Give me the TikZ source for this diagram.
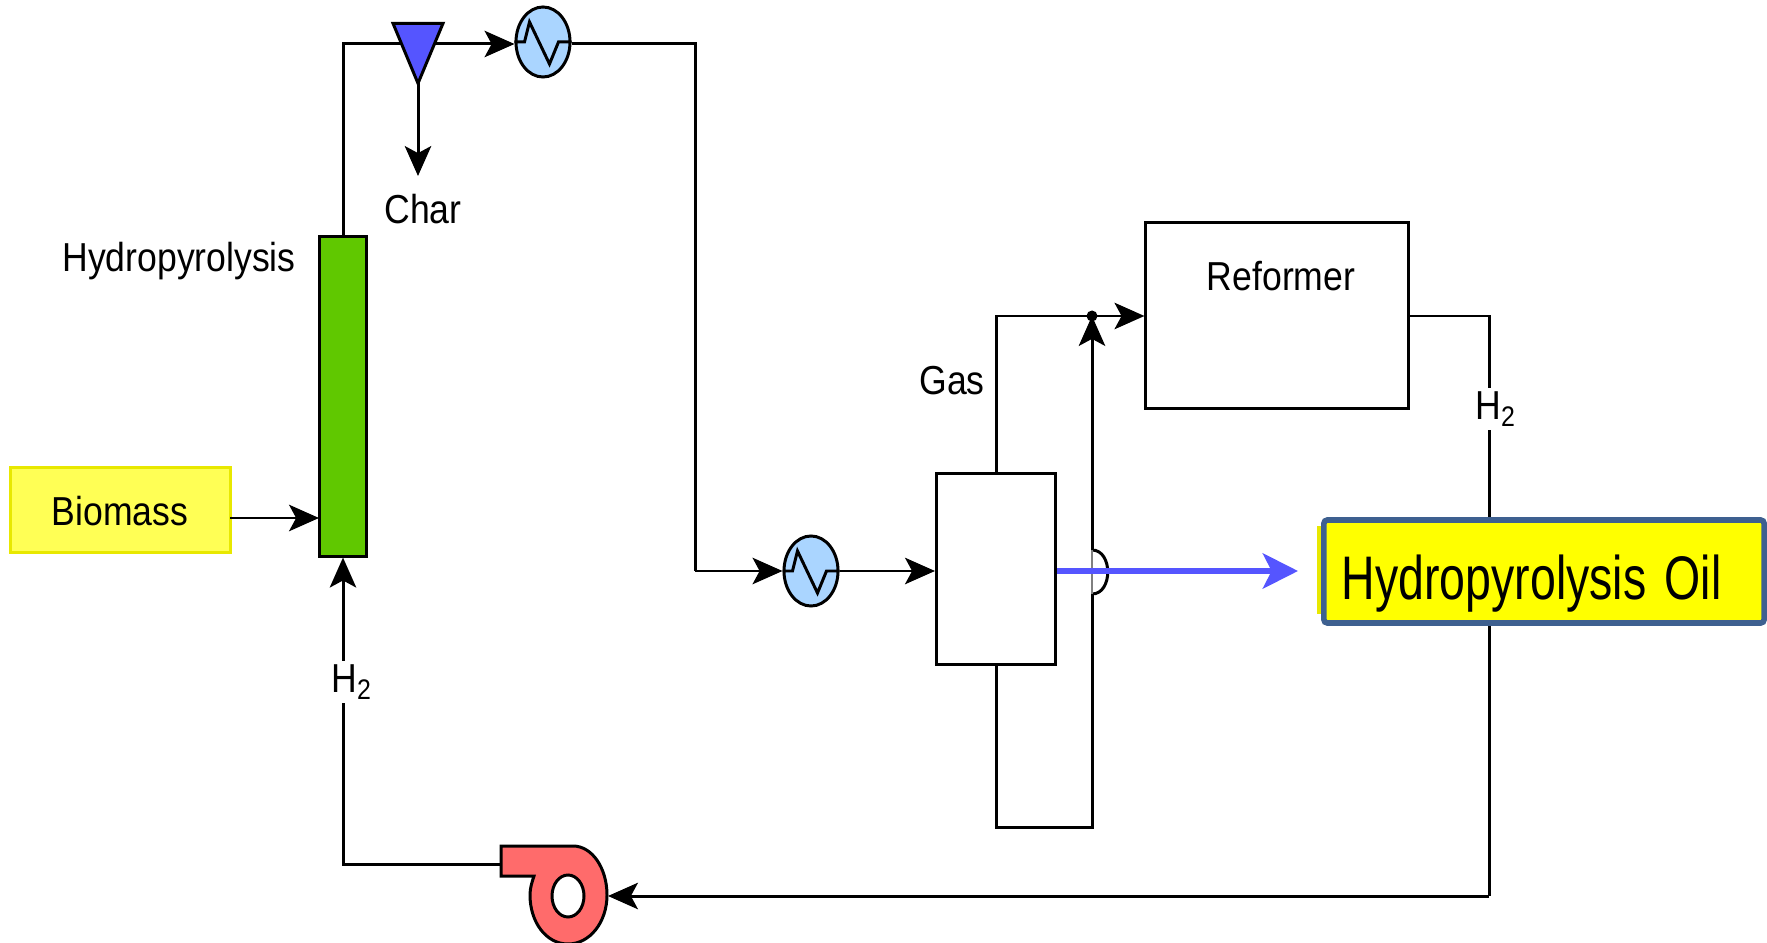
\documentclass[tikz,border=0pt]{standalone}
\usepackage{fontspec}
\setmainfont[FakeStretch=0.88]{Liberation Sans}
\newfontfamily\oilfont[FakeStretch=0.755]{Liberation Sans}
\usetikzlibrary{shapes,arrows.meta}
\definecolor{pf_green}{RGB}{96, 200, 0}
\definecolor{pf_blue}{RGB}{85, 85, 255}
\definecolor{pf_cool}{RGB}{170, 213, 255}
\definecolor{pf_red}{RGB}{255, 107, 107}
\definecolor{pf_yellow}{RGB}{255, 255, 85}
\definecolor{pf_edge}{RGB}{232, 232, 0}
\definecolor{pf_oil}{RGB}{255, 255, 0}
\definecolor{pf_slate}{RGB}{62, 96, 144}
\tikzstyle{box}=[rectangle,draw=black,line width=0.85pt,inner sep=0pt]
\tikzstyle{hx}=[ellipse,fill=pf_cool,draw=black,line width=0.85pt,inner sep=0pt,
  minimum width=0.54cm,minimum height=0.70cm]
\tikzstyle{lbl}=[font=\fontsize{11.5}{14}\selectfont,inner sep=1pt]
\tikzstyle{pipe}=[line width=0.85pt,draw=black]
\tikzstyle{flow}=[pipe,-{Stealth[length=8.5pt,width=7.5pt,inset=2pt]}]

\begin{document}
\begin{tikzpicture}[x=0.01cm,y=-0.01cm]
    \useasboundingbox (0,0) rectangle (1767,943);
    \node [style=box,fill=pf_yellow,draw=pf_edge,minimum width=2.19cm,minimum height=0.84cm] (biomass) at (120.5, 510) {};
    \node [style=lbl] (biomasstxt) at (120, 511) {Biomass};
    \node [style=box,fill=pf_green,minimum width=0.47cm,minimum height=3.19cm] (reactor) at (343, 396.5) {};
    \node [style=lbl] (hptxt) at (179, 261) {Hydropyrolysis};
    \node [style=hx] (hx1) at (543, 42) {};
    \node [style=hx] (hx2) at (811, 571) {};
    \node [style=box,minimum width=1.19cm,minimum height=1.90cm] (sep) at (996, 569) {};
    \node [style=box,minimum width=2.62cm,minimum height=1.85cm] (reformer) at (1277, 315.5) {};
    \node [style=lbl] (reformertxt) at (1281, 276) {Reformer};
    \node [style=lbl] (gastxt) at (952, 381) {Gas};
    \node [style=lbl] (chartxt) at (423, 209) {Char};
    \coordinate (t1) at (343, 44);
    \coordinate (t2) at (418, 44);
    \coordinate (t3) at (418, 176);
    \coordinate (m1) at (230, 518);
    \coordinate (m2) at (319, 518);
    \coordinate (c1) at (695, 44);
    \coordinate (c2) at (695, 571);
    \coordinate (g1) at (996, 316);
    \coordinate (j1) at (1092, 316);
    \coordinate (b1) at (996, 827);
    \coordinate (b2) at (1092, 827);
    \coordinate (h1) at (1092, 550);
    \coordinate (h2) at (1092, 594);
    \coordinate (r1) at (1489, 316);
    \coordinate (r2) at (1489, 896);
    \coordinate (p1) at (501, 864);
    \coordinate (p2) at (343, 864);
    \coordinate (p3) at (608, 896);
    \coordinate (o1) at (1298, 571);
    \draw [style=flow] (reactor.north -| t1) to (t1) to (hx1.west |- t1);
    \draw [style=flow] (t2) to (t3);
    \draw [style=pipe] (hx1.east |- c1) to (c1) to (c2);
    \draw [style=flow] (c2) to (hx2.west);
    \draw [style=flow] (hx2.east) to (sep.west |- hx2);
    \draw [style=flow] (m1) to (m2);
    \draw [style=flow] (sep.north) to (g1) to (j1) to (j1 -| reformer.west);
    \draw [style=pipe] (sep.south) to (b1) to (b2) to (h2);
    \draw [style=pipe] (h2) .. controls +(21,0) and +(21,0) .. (h1);
    \draw [line width=0.3pt,draw=gray] (h2) to (h1);
    \draw [style=flow] (h1) to (j1);
    \fill (j1) circle (5.5);
    \draw [style=pipe] (j1 -| reformer.east) to (r1) to (r2);
    \draw [style=flow] (r2) to (p3);
    \draw [style=flow] (p1) to (p2) to (reactor.south);
    \node [style=lbl,fill=white] (h2right) at (1496, 409) {H\textsubscript{2}};
    \node [style=lbl,fill=white] (h2left) at (352, 682) {H\textsubscript{2}};
    \foreach \n in {hx1,hx2}
      \draw [style=pipe] (\n.west) to ++(10,0) to ++(5,-20) to ++(20,42) to ++(9,-22) to (\n.east);
    \node [isosceles triangle,shape border rotate=-90,isosceles triangle stretches,
      fill=pf_blue,draw=black,line width=0.85pt,inner sep=0pt,minimum width=0.50cm,minimum height=0.60cm] (splitter) at (418, 40) {};
    \draw [line width=0.85pt,draw=black,fill=pf_red,even odd rule]
      (501, 846) to (573, 846) .. controls (592, 846) and (607, 868) .. (607, 895)
      .. controls (607, 922) and (590, 944) .. (568, 944)
      .. controls (546, 944) and (530, 922) .. (530, 895)
      .. controls (530, 888) and (532, 882) .. (534, 876) to (501, 876) -- cycle
      (568, 896) ellipse (16 and 21);
    \draw [line width=1.7pt,draw=pf_blue,-{Stealth[length=10pt,width=10pt,inset=2.5pt]}] (sep.east |- hx2) to (o1);
    \node [rectangle,fill=pf_edge,inner sep=0pt,minimum width=0.05cm,minimum height=0.87cm] (oiledge) at (1319, 570) {};
    \node [rectangle,fill=pf_oil,draw=pf_slate,line width=1.6pt,rounded corners=1pt,inner sep=0pt,
      minimum width=4.40cm,minimum height=1.03cm] (oil) at (1544, 571.5) {};
    \node [anchor=base west,inner sep=0pt,font=\oilfont\fontsize{17.5}{20}\selectfont] (oiltxt) at (1341, 599) {Hydropyrolysis\hspace{0.3em}Oil};
\end{tikzpicture}
\end{document}
